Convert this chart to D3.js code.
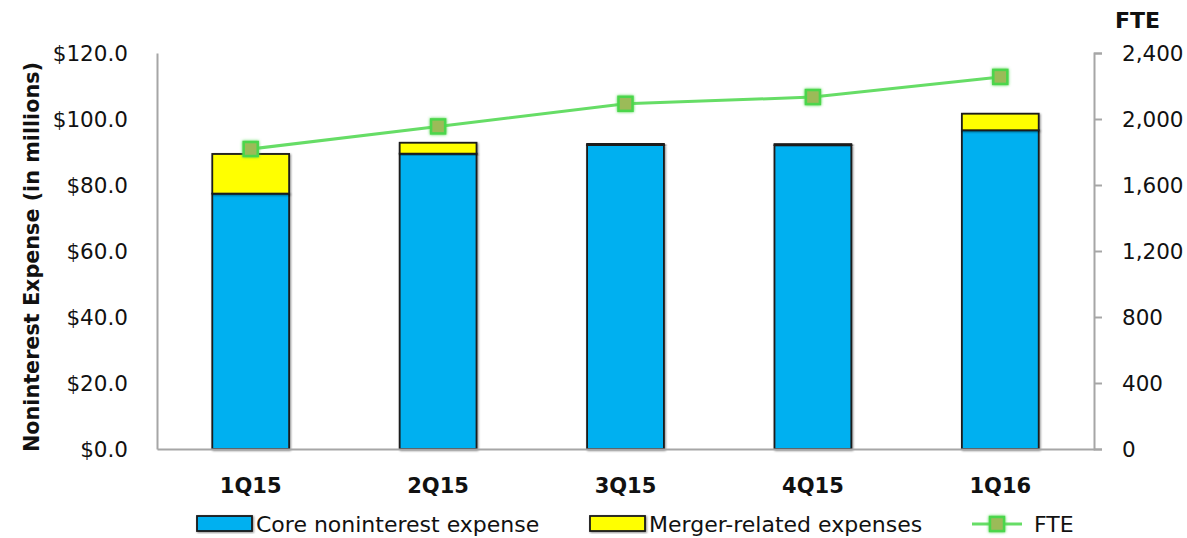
<!DOCTYPE html>
<html>
<head>
<meta charset="utf-8">
<script src="https://cdn.jsdelivr.net/npm/d3@7"></script>
<style>
  html, body { margin: 0; padding: 0; background: #fff; }
  svg text { font-family: "DejaVu Sans", "Liberation Sans", sans-serif; fill: #111; }
</style>
</head>
<body>
<svg id="chart" width="1187" height="538"></svg>
<script>
// Quarterly noninterest expense (millions) and full-time equivalent staff
const quarters = ["1Q15", "2Q15", "3Q15", "4Q15", "1Q16"];
const coreExpense = [77.4, 89.5, 92.1, 92.0, 96.6];
const mergerExpense = [12.0, 3.3, 0.4, 0.4, 5.0];
const fte = [1818, 1955, 2092, 2133, 2255];
const leftTicks = [0, 20, 40, 60, 80, 100, 120];
const rightTicks = [0, 400, 800, 1200, 1600, 2000, 2400];

const svg = d3.select("#chart");
const m = { left: 157, right: 1094, top: 53, bottom: 449 };

const x = d3.scaleBand().domain(quarters).range([m.left, m.right]).paddingInner(0.59).paddingOuter(0.295);
const yL = d3.scaleLinear().domain([0, 120]).range([m.bottom, m.top]);
const yR = d3.scaleLinear().domain([0, 2400]).range([m.bottom, m.top]);

const axisColor = "#a6a6a6";

// Stacked bars
const rows = quarters.map((q, i) => ({ q, core: coreExpense[i], merger: mergerExpense[i] }));
const stack = d3.stack().keys(["core", "merger"])(rows);
const fills = { core: "#00b0f0", merger: "#ffff00" };

const defs = svg.append("defs");
const f = defs.append("filter").attr("id", "soft").attr("x", "-20%").attr("y", "-20%").attr("width", "140%").attr("height", "140%");
f.append("feGaussianBlur").attr("in", "SourceAlpha").attr("stdDeviation", 1.2).attr("result", "b");
f.append("feOffset").attr("in", "b").attr("dx", 1).attr("dy", 1).attr("result", "o");
f.append("feComponentTransfer").attr("in", "o").attr("result", "s")
  .append("feFuncA").attr("type", "linear").attr("slope", 0.45);
const fm = f.append("feMerge");
fm.append("feMergeNode").attr("in", "s");
fm.append("feMergeNode").attr("in", "SourceGraphic");

const glow = defs.append("filter").attr("id", "glow").attr("x", "-50%").attr("y", "-50%").attr("width", "200%").attr("height", "200%");
glow.append("feGaussianBlur").attr("in", "SourceGraphic").attr("stdDeviation", 1.5).attr("result", "g");
const gm = glow.append("feMerge");
gm.append("feMergeNode").attr("in", "g");
gm.append("feMergeNode").attr("in", "SourceGraphic");

svg.append("g").selectAll("g").data(stack).join("g")
  .attr("fill", d => fills[d.key])
  .selectAll("rect").data(d => d).join("rect")
  .attr("x", d => x(d.data.q))
  .attr("width", x.bandwidth())
  .attr("y", d => yL(d[1]))
  .attr("height", d => yL(d[0]) - yL(d[1]))
  .attr("stroke", "#1a1a1a")
  .attr("stroke-width", 1.8)
  .attr("filter", "url(#soft)");

// Axes
const gLeft = svg.append("g").attr("transform", `translate(${m.left},0)`)
  .call(d3.axisLeft(yL).tickValues(leftTicks).tickSize(0).tickPadding(29).tickFormat(d => "$" + d3.format(".1f")(d)));
gLeft.select(".domain").attr("stroke", axisColor).attr("stroke-width", 2);
gLeft.selectAll("text").attr("font-size", 21.5).attr("dy", "0.36em");

const gRight = svg.append("g").attr("transform", `translate(${m.right},0)`)
  .call(d3.axisRight(yR).tickValues(rightTicks).tickSizeInner(8).tickSizeOuter(8).tickPadding(20).tickFormat(d3.format(",")));
gRight.select(".domain").attr("stroke", axisColor).attr("stroke-width", 2);
gRight.selectAll("line").attr("stroke", axisColor).attr("stroke-width", 2);
gRight.selectAll("text").attr("font-size", 21.5).attr("dy", "0.36em");

const gBottom = svg.append("g").attr("transform", `translate(0,${m.bottom})`)
  .call(d3.axisBottom(x).tickSize(0).tickPadding(29));
gBottom.select(".domain").attr("stroke", axisColor).attr("stroke-width", 2);
gBottom.selectAll("text").attr("font-size", 21).attr("font-weight", "bold");

// FTE line with markers
const cx = q => x(q) + x.bandwidth() / 2;
const line = d3.line().x((d, i) => cx(quarters[i])).y(d => yR(d));
svg.append("path").datum(fte).attr("d", line)
  .attr("fill", "none").attr("stroke", "#66dd66").attr("stroke-width", 3);
svg.append("g").selectAll("rect").data(fte).join("rect")
  .attr("x", (d, i) => cx(quarters[i]) - 7)
  .attr("y", d => yR(d) - 7)
  .attr("width", 14).attr("height", 14)
  .attr("fill", "#9bbb59").attr("stroke", "#4cd64c").attr("stroke-width", 2.5)
  .attr("filter", "url(#glow)");

// Titles
svg.append("text")
  .attr("transform", `translate(39,${(m.top + m.bottom) / 2 + 6}) rotate(-90)`)
  .attr("text-anchor", "middle").attr("font-size", 22).attr("font-weight", "bold")
  .attr("textLength", 390).attr("lengthAdjust", "spacingAndGlyphs")
  .text("Noninterest Expense (in millions)");
svg.append("text").attr("x", 1115).attr("y", 28).attr("font-size", 22).attr("font-weight", "bold").text("FTE");

// Legend
const legendY = 524;
const legend = svg.append("g");
const legendItems = [
  { label: "Core noninterest expense", color: fills.core, x: 197 },
  { label: "Merger-related expenses", color: fills.merger, x: 590 }
];
legendItems.forEach(it => {
  legend.append("rect").attr("x", it.x).attr("y", legendY - 8).attr("width", 55).attr("height", 15)
    .attr("fill", it.color).attr("stroke", "#1a1a1a").attr("stroke-width", 1.8).attr("filter", "url(#soft)");
  legend.append("text").attr("x", it.x + 59).attr("y", legendY).attr("dy", "0.36em")
    .attr("font-size", 22).text(it.label);
});
legend.append("line").attr("x1", 972).attr("x2", 1022).attr("y1", legendY).attr("y2", legendY)
  .attr("stroke", "#66dd66").attr("stroke-width", 3);
legend.append("rect").attr("x", 990).attr("y", legendY - 7).attr("width", 14).attr("height", 14)
  .attr("fill", "#9bbb59").attr("stroke", "#4cd64c").attr("stroke-width", 2.5).attr("filter", "url(#glow)");
legend.append("text").attr("x", 1034).attr("y", legendY).attr("dy", "0.36em").attr("font-size", 22).text("FTE");
</script>
</body>
</html>
